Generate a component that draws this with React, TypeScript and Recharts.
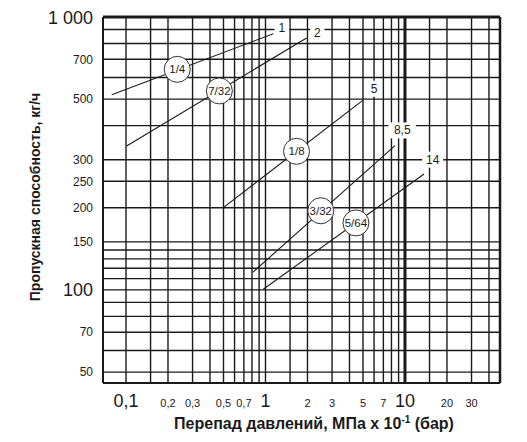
import React from "react";
import { LineChart, Line, XAxis, YAxis, ReferenceLine, ReferenceDot } from "recharts";

// orifice sizes and their flow lines (pressure drop, bar -> flow, kg/h)
const sizes = ["1/4", "7/32", "1/8", "3/32", "5/64"];
const startDrop = [0.079, 0.101, 0.504, 0.81, 0.964];
const startFlow = [519, 337, 201, 116, 100.6];
const endDrop = [1.14, 1.97, 4.98, 8.48, 13.7];
const endFlow = [869, 838, 495, 338, 266];

// circled size badges sitting on the lines
const badgeDrop = [0.233, 0.467, 1.67, 2.49, 4.45];
const badgeFlow = [643, 536, 322, 195, 176];

// max pressure drop labels at line ends
const maxDrop = ["1", "2", "5", "8,5", "14"];
const maxLabelDrop = [1.31, 2.35, 6.0, 9.56, 15.8];
const maxLabelFlow = [911, 873, 546, 384, 300];

const xTicks = [0.1, 0.2, 0.3, 0.5, 0.7, 1, 2, 3, 5, 7, 10, 20, 30];
const xBig = [0.1, 1, 10];
const yTicks = [50, 70, 100, 150, 200, 250, 300, 500, 700, 1000];
const yBig = [100, 1000];

const xGrid = [0.1, 0.15, 0.2, 0.3, 0.4, 0.5, 0.6, 0.7, 0.8, 0.9, 1, 1.5, 2, 3, 4, 5, 6, 7, 8, 9, 15, 20, 30, 40];
const yGrid = [50, 60, 70, 80, 90, 100, 110, 120, 130, 140, 150, 200, 250, 300, 400, 500, 600, 700, 800, 900];

const X_MIN = 0.0684;
const X_MAX = 48;
const Y_MIN = 45.6;
const Y_MAX = 1000;

const narrow = "'Liberation Sans Narrow', 'Liberation Sans', Arial, sans-serif";
const sans = "'Liberation Sans', Arial, sans-serif";
const ink = "#1a1a1a";

const fmt = (v: number) => (v === 1000 ? "1 000" : String(v).replace(".", ","));

const XTick = (props: any) => {
  const { x, y, payload } = props;
  const v = payload.value;
  const big = xBig.includes(v);
  return (
    <text
      x={x}
      y={y + 24}
      textAnchor="middle"
      fontFamily={big ? sans : narrow}
      fontSize={big ? 18 : 11}
      fill={ink}
    >
      {fmt(v)}
    </text>
  );
};

const YTick = (props: any) => {
  const { x, y, payload } = props;
  const v = payload.value;
  const big = yBig.includes(v);
  return (
    <text
      x={x - 10}
      y={y + (big ? 6.5 : 4.3)}
      textAnchor="end"
      fontFamily={big ? sans : narrow}
      fontSize={big ? 18 : 12}
      fill={ink}
    >
      {fmt(v)}
    </text>
  );
};

const badge = (text: string) => (props: any) => {
  const { cx, cy } = props;
  return (
    <g>
      <circle cx={cx} cy={cy} r={13} fill="#fff" stroke="#333" strokeWidth={1} />
      <text x={cx} y={cy + 4} textAnchor="middle" fontFamily={sans} fontSize={11.5} fill={ink}>
        {text}
      </text>
    </g>
  );
};

const endTag = (text: string) => (props: any) => {
  const { cx, cy } = props;
  const w = text.length * 6.5 + 8;
  return (
    <g>
      <rect x={cx - w / 2} y={cy - 8} width={w} height={16} fill="#fff" />
      <text x={cx} y={cy + 4} textAnchor="middle" fontFamily={sans} fontSize={12} fill={ink}>
        {text}
      </text>
    </g>
  );
};

export default function App() {
  return (
    <div style={{ position: "absolute", left: 0, top: 0, width: 527, height: 442, background: "#fff" }}>
      <LineChart width={527} height={442} margin={{ top: 17, right: 27, bottom: 0, left: 0 }}>
        <XAxis
          type="number"
          dataKey="x"
          scale="log"
          domain={[X_MIN, X_MAX]}
          allowDataOverflow
          ticks={xTicks}
          interval={0}
          height={59}
          axisLine={false}
          tickLine={false}
          tickSize={0}
          tickMargin={0}
          tick={<XTick />}
        />
        <YAxis
          type="number"
          dataKey="y"
          scale="log"
          domain={[Y_MIN, Y_MAX]}
          allowDataOverflow
          ticks={yTicks}
          interval={0}
          width={103}
          axisLine={false}
          tickLine={false}
          tickSize={0}
          tickMargin={0}
          tick={<YTick />}
        />
        {xGrid.map((v) => (
          <ReferenceLine key={`vx-${v}`} x={v} stroke={ink} strokeWidth={1.4} />
        ))}
        {yGrid.map((v) => (
          <ReferenceLine key={`hy-${v}`} y={v} stroke={ink} strokeWidth={1.4} />
        ))}
        <ReferenceLine x={10} stroke={ink} strokeWidth={3} />
        <ReferenceLine x={X_MIN} stroke={ink} strokeWidth={2} />
        <ReferenceLine y={Y_MIN} stroke={ink} strokeWidth={2} />
        <ReferenceLine x={X_MAX} stroke={ink} strokeWidth={2.5} />
        <ReferenceLine y={Y_MAX} stroke={ink} strokeWidth={3} />
        {sizes.map((s, i) => (
          <Line
            key={`line-${s}`}
            data={[
              { x: startDrop[i], y: startFlow[i] },
              { x: endDrop[i], y: endFlow[i] },
            ]}
            dataKey="y"
            stroke={ink}
            strokeWidth={1.1}
            dot={false}
            activeDot={false}
            isAnimationActive={false}
          />
        ))}
        {sizes.map((s, i) => (
          <ReferenceDot key={`badge-${s}`} x={badgeDrop[i]} y={badgeFlow[i]} shape={badge(s)} />
        ))}
        {maxDrop.map((t, i) => (
          <ReferenceDot key={`max-${t}`} x={maxLabelDrop[i]} y={maxLabelFlow[i]} shape={endTag(t)} />
        ))}
        <text
          x={35}
          y={197}
          transform="rotate(-90 35 197)"
          textAnchor="middle"
          dominantBaseline="central"
          fontFamily={sans}
          fontWeight="bold"
          fontSize={14}
          fill={ink}
        >
          Пропускная способность, кг/ч
        </text>
        <text x={314} y={429} textAnchor="middle" fontFamily={sans} fontWeight="bold" fontSize={16} fill={ink}>
          Перепад давлений, МПа х 10
          <tspan fontSize={10} dy={-6}>
            -1
          </tspan>
          <tspan dy={6}> (бар)</tspan>
        </text>
      </LineChart>
    </div>
  );
}
